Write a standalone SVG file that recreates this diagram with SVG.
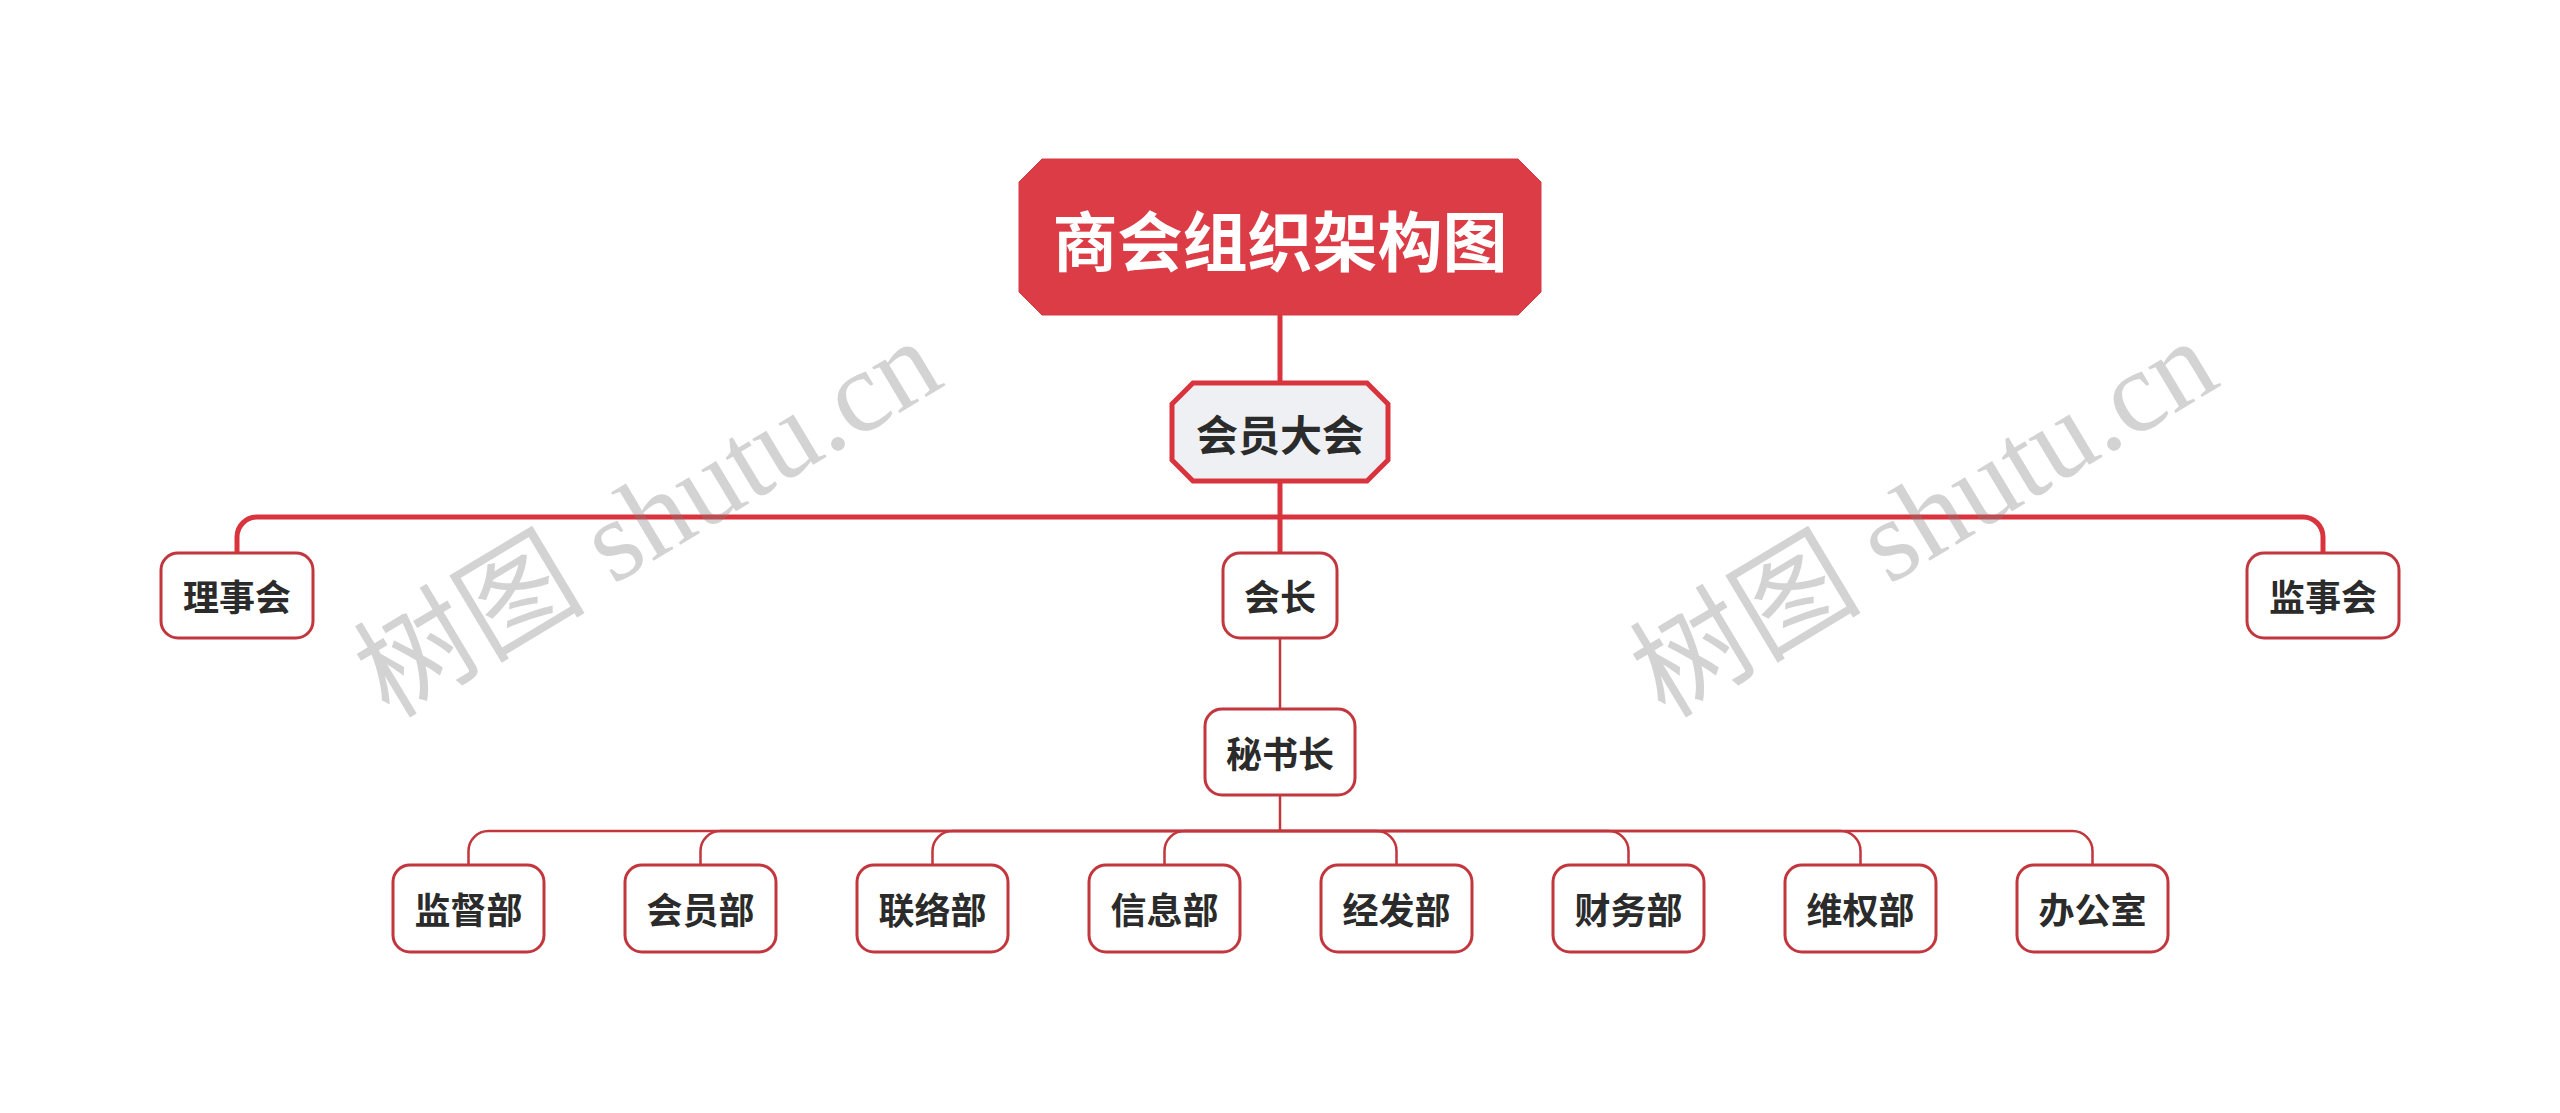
<svg xmlns="http://www.w3.org/2000/svg" width="2560" height="1113" viewBox="0 0 2560 1113">
<style>
.bg{fill:#ffffff}
.thick{fill:none;stroke:#d9343e;stroke-width:5;stroke-linecap:butt}
.thin{fill:none;stroke:#c2363d;stroke-width:2.5}
.box{fill:#ffffff;stroke:#c2363d;stroke-width:3}
.root{fill:#dc3c45;stroke:#d33a42;stroke-width:1}
.sub{fill:#eef0f3;stroke:#d9343e;stroke-width:5}
.t{font-family:"Noto Sans CJK SC","Noto Sans",sans-serif;font-weight:bold;fill:#2b2b2b;text-anchor:middle;dominant-baseline:central}
.tr{fill:#ffffff;font-size:65px}
.t2{font-size:42px}
.t3{font-size:36px}
.wm{font-family:"Liberation Serif","Noto Sans CJK SC",serif;font-size:116px;fill:#808080;fill-opacity:0.35;text-anchor:middle}
</style>
<rect class="bg" x="0" y="0" width="2560" height="1113"/>
<g id="connectors">
<path class="thick" d="M1280 315 V381"/>
<path class="thick" d="M1280 483 V553"/>
<path class="thick" d="M1280 517 H257 A20 20 0 0 0 237 537 V553"/>
<path class="thick" d="M1280 517 H2303 A20 20 0 0 1 2323 537 V553"/>
<path class="thin" d="M1280 638 V709"/>
<path class="thin" d="M1280 795 V831"/>
<path class="thin" d="M1280 831 H488.5 A20 20 0 0 0 468.5 851 V865"/>
<path class="thin" d="M1280 831 H720.5 A20 20 0 0 0 700.5 851 V865"/>
<path class="thin" d="M1280 831 H952.5 A20 20 0 0 0 932.5 851 V865"/>
<path class="thin" d="M1280 831 H1184.5 A20 20 0 0 0 1164.5 851 V865"/>
<path class="thin" d="M1280 831 H1376.5 A20 20 0 0 1 1396.5 851 V865"/>
<path class="thin" d="M1280 831 H1608.5 A20 20 0 0 1 1628.5 851 V865"/>
<path class="thin" d="M1280 831 H1840.5 A20 20 0 0 1 1860.5 851 V865"/>
<path class="thin" d="M1280 831 H2072.5 A20 20 0 0 1 2092.5 851 V865"/>
</g>
<g id="root">
<polygon class="root" points="1042,159 1518,159 1541,182 1541,292 1518,315 1042,315 1019,292 1019,182"/>
<text class="t tr" x="1280" y="238">商会组织架构图</text>
</g>
<g id="n-huiyuandahui">
<polygon class="sub" points="1193,383 1367,383 1388,404 1388,460 1367,481 1193,481 1172,460 1172,404"/>
<text class="t t2" x="1280" y="432">会员大会</text>
</g>
<g id="n-lishihui">
<rect class="box" x="161" y="553" width="152" height="85" rx="17"/>
<text class="t t3" x="237" y="595">理事会</text>
</g>
<g id="n-huizhang">
<rect class="box" x="1223" y="553" width="114" height="85" rx="17"/>
<text class="t t3" x="1280" y="595">会长</text>
</g>
<g id="n-jianshihui">
<rect class="box" x="2247" y="553" width="152" height="85" rx="17"/>
<text class="t t3" x="2323" y="595">监事会</text>
</g>
<g id="n-mishuzhang">
<rect class="box" x="1205" y="709" width="150" height="86" rx="17"/>
<text class="t t3" x="1280" y="752">秘书长</text>
</g>
<g id="n-jianbu">
<rect class="box" x="393" y="865" width="151" height="87" rx="17"/>
<text class="t t3" x="468.5" y="908">监督部</text>
</g>
<g id="n-huiyuanbu">
<rect class="box" x="625" y="865" width="151" height="87" rx="17"/>
<text class="t t3" x="700.5" y="908">会员部</text>
</g>
<g id="n-lianluobu">
<rect class="box" x="857" y="865" width="151" height="87" rx="17"/>
<text class="t t3" x="932.5" y="908">联络部</text>
</g>
<g id="n-xinxibu">
<rect class="box" x="1089" y="865" width="151" height="87" rx="17"/>
<text class="t t3" x="1164.5" y="908">信息部</text>
</g>
<g id="n-jingfabu">
<rect class="box" x="1321" y="865" width="151" height="87" rx="17"/>
<text class="t t3" x="1396.5" y="908">经发部</text>
</g>
<g id="n-caiwubu">
<rect class="box" x="1553" y="865" width="151" height="87" rx="17"/>
<text class="t t3" x="1628.5" y="908">财务部</text>
</g>
<g id="n-weiquanbu">
<rect class="box" x="1785" y="865" width="151" height="87" rx="17"/>
<text class="t t3" x="1860.5" y="908">维权部</text>
</g>
<g id="n-bangongshi">
<rect class="box" x="2017" y="865" width="151" height="87" rx="17"/>
<text class="t t3" x="2092.5" y="908">办公室</text>
</g>
<g id="watermark">
<text class="wm" transform="translate(668,552) rotate(-31)">树图 shutu.cn</text>
<text class="wm" transform="translate(1944,552) rotate(-31)">树图 shutu.cn</text>
</g>
</svg>
